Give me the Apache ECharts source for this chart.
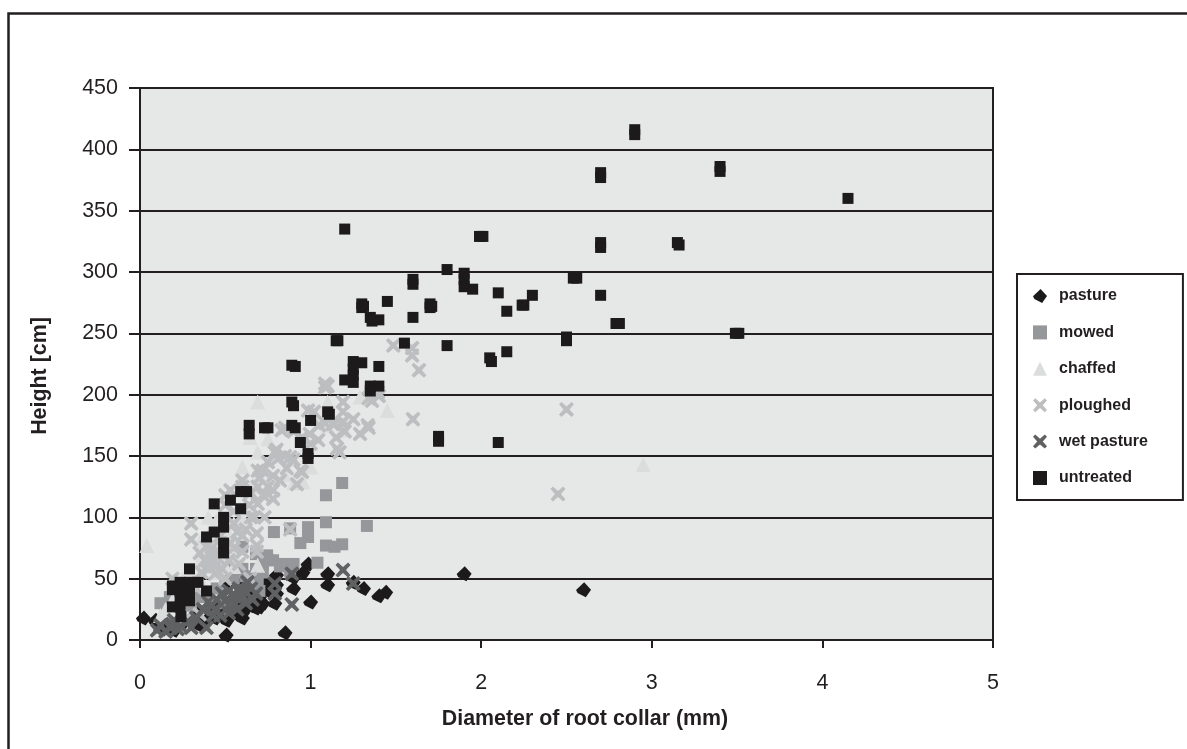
<!DOCTYPE html>
<html><head><meta charset="utf-8">
<style>html,body{margin:0;padding:0;background:#fff}#c{width:1187px;height:749px}</style>
<script src="https://cdn.jsdelivr.net/npm/echarts@6/dist/echarts.min.js"></script>
</head><body><div id="c"></div>
<script>
const pasture=[[2.6,41],[1.9,54],[1.44,39],[1.4,36],[1.31,42],[1.25,47],[1.1,54],[1.1,45],[0.985,62],[0.955,55],[0.9,42],[0.9,51],[1.0,31],[0.79,30],[0.85,6],[0.505,4],[0.02,18],[0.6,18],[0.69,30],[0.51,48],[0.51,16],[0.745,46],[0.8,53],[0.45,20],[0.35,12],[0.09,16],[0.13,9],[0.16,12],[0.2,8],[0.25,14],[0.3,18],[0.38,15],[0.42,22],[0.47,28],[0.55,22],[0.6,22],[0.62,26],[0.65,28],[0.7,35],[0.72,30],[0.75,40],[0.55,48],[0.6,45],[0.65,35],[0.8,45],[0.8,38],[0.68,26],[0.7,27],[0.56,32],[0.44,18],[0.33,22]];
const mowed=[[0.785,88],[0.88,91],[1.185,128],[1.09,118],[1.09,96],[1.33,93],[0.985,92],[0.985,84],[0.94,79],[1.09,77],[1.14,76],[1.185,78],[1.04,63],[0.745,69],[0.78,65],[0.84,62],[0.9,62],[0.69,48],[0.6,58],[0.5,59],[0.6,76],[0.12,30],[0.175,35],[0.72,62],[0.68,70],[0.62,52],[0.55,50],[0.65,45],[0.45,42],[0.4,38],[0.35,35],[0.3,28],[0.2,30],[0.15,28],[0.5,30],[0.7,40],[0.55,35],[0.88,56],[0.75,65],[0.82,60],[0.68,58],[0.72,55],[0.64,50]];
const chaffed=[[0.04,77],[0.4,100],[0.45,98],[0.5,92],[0.35,65],[0.4,70],[0.45,75],[0.5,60],[0.3,55],[0.25,50],[0.35,50],[0.45,55],[0.55,70],[0.6,100],[0.55,95],[0.65,125],[0.7,135],[0.6,141],[0.69,153],[0.645,165],[0.75,164],[0.9,128],[0.955,129],[1.0,141],[0.69,61],[0.69,194],[1.1,194],[1.29,198],[1.45,187],[2.95,143],[1.2,171],[0.85,135],[0.8,150],[1.1,175],[0.38,60],[0.42,65],[0.48,85],[0.52,85],[0.4,85],[0.45,65],[0.35,80],[0.2,35],[0.15,25],[0.12,20],[0.55,60],[0.5,78],[0.42,78],[0.47,70],[0.37,72],[1.05,178]];
const ploughed=[[2.5,188],[2.45,119],[1.485,240],[1.595,238],[1.595,232],[1.635,220],[1.6,180],[1.085,209],[1.085,206],[1.34,197],[1.395,202],[1.19,194],[1.19,186],[0.985,187],[1.335,175],[1.185,177],[1.085,177],[1.13,176],[1.34,173],[1.29,168],[1.155,156],[1.14,176],[1.19,178],[1.045,163],[0.995,168],[0.94,138],[0.88,149],[0.79,153],[0.81,148],[0.83,171],[0.78,115],[0.78,122],[0.78,134],[0.69,138],[0.69,125],[0.69,111],[0.67,100],[0.6,130],[0.53,122],[0.5,118],[0.57,88],[0.685,87],[0.685,77],[0.53,79],[0.6,72],[0.685,72],[0.3,95],[0.3,82],[0.19,50],[0.41,59],[0.41,71],[0.35,71],[0.645,50],[0.35,21],[0.27,18],[1.2,170],[1.15,165],[1.25,180],[1.05,175],[1.0,160],[0.95,165],[0.9,170],[0.85,173],[0.85,150],[0.9,147],[0.95,137],[0.8,155],[0.75,145],[0.7,132],[0.75,125],[0.72,138],[0.65,120],[0.6,125],[0.55,105],[0.5,110],[0.55,95],[0.62,90],[0.65,100],[0.6,85],[0.47,85],[0.42,75],[0.38,65],[0.45,68],[0.48,58],[0.52,65],[0.55,75],[0.58,62],[0.44,60],[0.36,55],[0.5,50],[0.33,42],[0.28,40],[0.88,90],[1.1,207],[1.02,186],[1.4,199],[1.36,195],[1.17,153],[0.92,127],[0.73,100],[0.43,66],[0.4,64],[0.46,72],[0.39,76],[0.44,54],[0.64,110],[0.72,118],[0.82,130],[0.86,140]];
const wetPasture=[[1.19,57],[1.25,46],[0.89,54],[0.79,46],[0.79,38],[0.89,29],[0.615,40],[0.56,36],[0.5,32],[0.52,22],[0.4,31],[0.39,10],[0.19,13],[0.1,8],[0.24,11],[0.12,12],[0.2,16],[0.28,15],[0.33,18],[0.37,25],[0.42,28],[0.45,33],[0.48,38],[0.55,30],[0.6,35],[0.65,42],[0.68,38],[0.62,30],[0.58,42],[0.52,40],[0.43,20],[0.3,10],[0.22,9],[0.15,7],[0.57,25],[0.66,33],[0.63,47],[0.44,25],[0.47,20],[0.53,30],[0.59,38],[0.18,10]];
const untreated=[[4.15,360],[3.4,386],[3.4,382],[2.9,416],[2.9,412],[2.7,381],[2.7,377],[3.15,324],[3.16,322],[2.7,324],[2.7,320],[1.2,335],[1.99,329],[2.01,329],[1.6,294],[1.6,290],[1.8,302],[1.9,299],[1.9,294],[1.9,288],[1.95,286],[2.1,283],[2.15,268],[2.3,281],[2.25,273],[2.24,273],[2.54,295],[2.56,295],[2.7,281],[2.79,258],[2.81,258],[3.49,250],[3.51,250],[2.5,247],[2.5,244],[1.45,276],[1.3,274],[1.3,271],[1.31,272],[1.7,274],[1.7,271],[1.71,272],[1.6,263],[1.35,263],[1.36,260],[1.4,261],[1.15,244],[1.16,244],[1.55,242],[1.8,240],[2.05,230],[2.06,227],[2.15,235],[1.25,227],[1.3,226],[1.25,221],[1.25,216],[1.4,223],[0.89,224],[0.91,223],[1.2,212],[1.25,210],[1.35,207],[1.35,203],[1.4,207],[0.89,194],[0.9,191],[1.1,186],[1.11,184],[1.0,179],[0.89,175],[0.91,173],[0.73,173],[0.75,173],[0.64,175],[0.64,168],[1.75,166],[1.75,162],[2.1,161],[0.94,161],[0.985,152],[0.985,148],[0.59,121],[0.625,121],[0.53,114],[0.435,111],[0.59,107],[0.49,100],[0.49,92],[0.435,88],[0.39,84],[0.49,79],[0.49,71],[0.19,44],[0.19,41],[0.235,47],[0.235,40],[0.235,34],[0.235,27],[0.29,58],[0.29,47],[0.29,40],[0.29,32],[0.34,47],[0.39,40],[0.19,27],[0.24,19]];
const seriesNames=['pasture','mowed','chaffed','ploughed','wet pasture','untreated'];
const yTicks={min:0,max:450,step:50}, xTicks={min:0,max:5,step:1};

const ink='#231f20';
const crossPath='path://M0,1.6 L1.6,0 L5,3 L8.4,0 L10,1.6 L7,5 L10,8.4 L8.4,10 L5,7 L1.6,10 L0,8.4 L3,5 Z';
const kitePath='path://M5.4,0 L10,5 L6.5,10 L1,7.2 L0,5.2 Z';
const styles={
 'pasture':{symbol:kitePath,size:15,color:'#1d1a1b'},
 'mowed':{symbol:'rect',size:12,color:'#96979a'},
 'chaffed':{symbol:'triangle',size:15,color:'#dbdddd'},
 'ploughed':{symbol:crossPath,size:15,color:'#bcbec0'},
 'wet pasture':{symbol:crossPath,size:15,color:'#606163'},
 'untreated':{symbol:'rect',size:11,color:'#1d1a1b'}
};
const seriesData={'pasture':pasture,'mowed':mowed,'chaffed':chaffed,'ploughed':ploughed,'wet pasture':wetPasture,'untreated':untreated};
const fam='"Liberation Sans",Arial,sans-serif';

const chart=echarts.init(document.getElementById('c'),null,{renderer:'canvas'});
chart.setOption({
 animation:false,
 backgroundColor:'#fff',
 graphic:[
  {type:'polyline',z:0,shape:{points:[[8.5,760],[8.5,13.5],[1200,13.5]]},style:{fill:null,stroke:ink,lineWidth:2.5}}
 ],
 grid:{left:140,right:194,top:88,bottom:109,show:true,backgroundColor:'#e6e7e7',borderColor:ink,borderWidth:2},
 legend:{
  orient:'vertical',left:1017,top:274,
  padding:[14,35,14,16],
  itemGap:20.4,itemWidth:14,itemHeight:14,
  backgroundColor:'#fff',borderColor:ink,borderWidth:2,
  textStyle:{fontFamily:fam,fontWeight:'bold',fontSize:16,color:ink,padding:[0,0,0,7]},
  data:seriesNames.map(n=>({name:n,icon:styles[n].symbol}))
 },
 xAxis:{type:'value',min:xTicks.min,max:xTicks.max,interval:xTicks.step,
  name:'Diameter of root collar (mm)',nameLocation:'middle',nameGap:69,
  nameTextStyle:{fontFamily:fam,fontWeight:'bold',fontSize:21.4,color:ink,padding:[0,0,0,37]},
  axisLine:{lineStyle:{color:ink,width:2}},axisTick:{length:8,lineStyle:{color:ink,width:2}},
  axisLabel:{fontFamily:fam,fontSize:21.5,color:ink,margin:32},splitLine:{show:false}},
 yAxis:{type:'value',min:yTicks.min,max:yTicks.max,interval:yTicks.step,
  name:'Height [cm]',nameLocation:'middle',nameGap:89,nameRotate:90,
  nameTextStyle:{fontFamily:fam,fontWeight:'bold',fontSize:21.4,color:ink,padding:[0,24,0,0]},
  axisLine:{show:true,lineStyle:{color:ink,width:2}},axisTick:{show:true,length:11,lineStyle:{color:ink,width:2}},
  axisLabel:{fontFamily:fam,fontSize:21.5,color:ink,margin:22},
  splitLine:{show:true,lineStyle:{color:ink,width:2}}},
 series:seriesNames.map(n=>({
  name:n,type:'scatter',data:seriesData[n],symbol:styles[n].symbol,symbolSize:styles[n].size,
  itemStyle:{color:styles[n].color,opacity:1},clip:false
 }))
});
</script></body></html>
